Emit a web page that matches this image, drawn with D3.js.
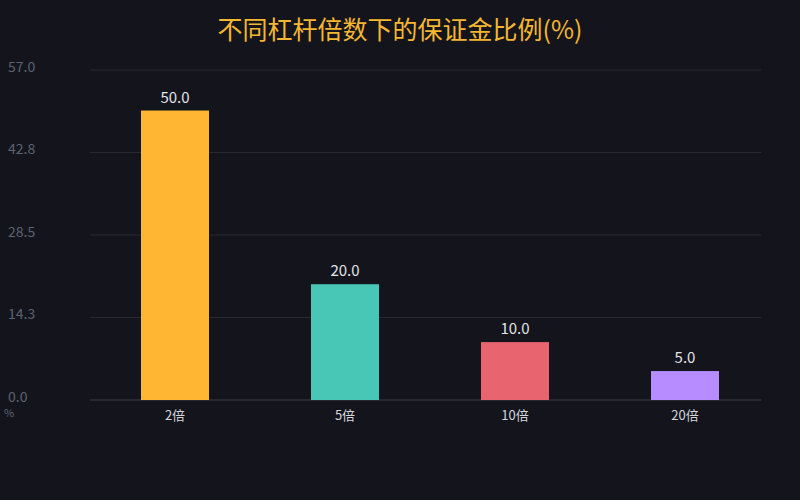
<!DOCTYPE html>
<html>
<head>
<meta charset="utf-8">
<script src="https://cdn.jsdelivr.net/npm/d3@7"></script>
<style>
  body { margin: 0; background: #14151c; }
  svg { display: block; font-family: "Noto Sans CJK SC", "Noto Sans", sans-serif; }
</style>
</head>
<body>
<div id="chart"></div>
<script>
const categories = ['2倍', '5倍', '10倍', '20倍'];
const values = [50, 20, 10, 5];
const colors = ['#FFB733', '#48C6B6', '#E8656F', '#B68CFE'];
const yTicks = [0, 14.25, 28.5, 42.75, 57];

const width = 800, height = 500;
const margin = { top: 70, right: 30, bottom: 100, left: 90 };

const svg = d3.select('#chart')
  .append('svg')
  .attr('width', width)
  .attr('height', height);

svg.append('rect')
  .attr('width', width)
  .attr('height', height)
  .attr('fill', '#14151c');

const x = d3.scaleBand()
  .domain(categories)
  .range([margin.left, width - margin.right])
  .padding(0);

const y = d3.scaleLinear()
  .domain([0, 57])
  .range([height - margin.bottom, margin.top]);

// grid
svg.append('g')
  .selectAll('line')
  .data(yTicks)
  .join('line')
  .attr('x1', margin.left)
  .attr('x2', 761)
  .attr('y1', d => y(d))
  .attr('y2', d => y(d))
  .attr('stroke', d => d === 0 ? '#3a3d48' : '#272a33')
  .attr('stroke-width', 1);

// y labels
svg.append('g')
  .selectAll('text')
  .data(yTicks)
  .join('text')
  .attr('x', 8)
  .attr('y', d => y(d) - 2)
  .attr('dominant-baseline', 'middle')
  .attr('fill', '#5b6272')
  .attr('font-size', 14)
  .text(d => d.toFixed(1));

// unit label
svg.append('text')
  .attr('x', 4)
  .attr('y', 417)
  .attr('fill', '#5b6272')
  .attr('font-size', 11)
  .text('%');

const barW = x.bandwidth() * 0.4;

svg.append('g')
  .selectAll('rect')
  .data(values)
  .join('rect')
  .attr('x', (d, i) => x(categories[i]) + (x.bandwidth() - barW) / 2)
  .attr('y', d => y(d))
  .attr('width', barW)
  .attr('height', d => y(0) - y(d))
  .attr('fill', (d, i) => colors[i]);

svg.append('g')
  .selectAll('text')
  .data(values)
  .join('text')
  .attr('x', (d, i) => x(categories[i]) + x.bandwidth() / 2)
  .attr('y', d => y(d) - 8)
  .attr('text-anchor', 'middle')
  .attr('fill', '#e2e4ea')
  .attr('font-size', 15)
  .text(d => d.toFixed(1));

svg.append('g')
  .selectAll('text')
  .data(categories)
  .join('text')
  .attr('x', d => x(d) + x.bandwidth() / 2)
  .attr('y', 420)
  .attr('text-anchor', 'middle')
  .attr('fill', '#d4d6dc')
  .attr('font-size', 13)
  .text(d => d);

svg.append('text')
  .attr('x', width / 2)
  .attr('y', 39)
  .attr('text-anchor', 'middle')
  .attr('fill', '#F5B731')
  .attr('font-size', 25)
  .text('不同杠杆倍数下的保证金比例(%)');
</script>
</body>
</html>
